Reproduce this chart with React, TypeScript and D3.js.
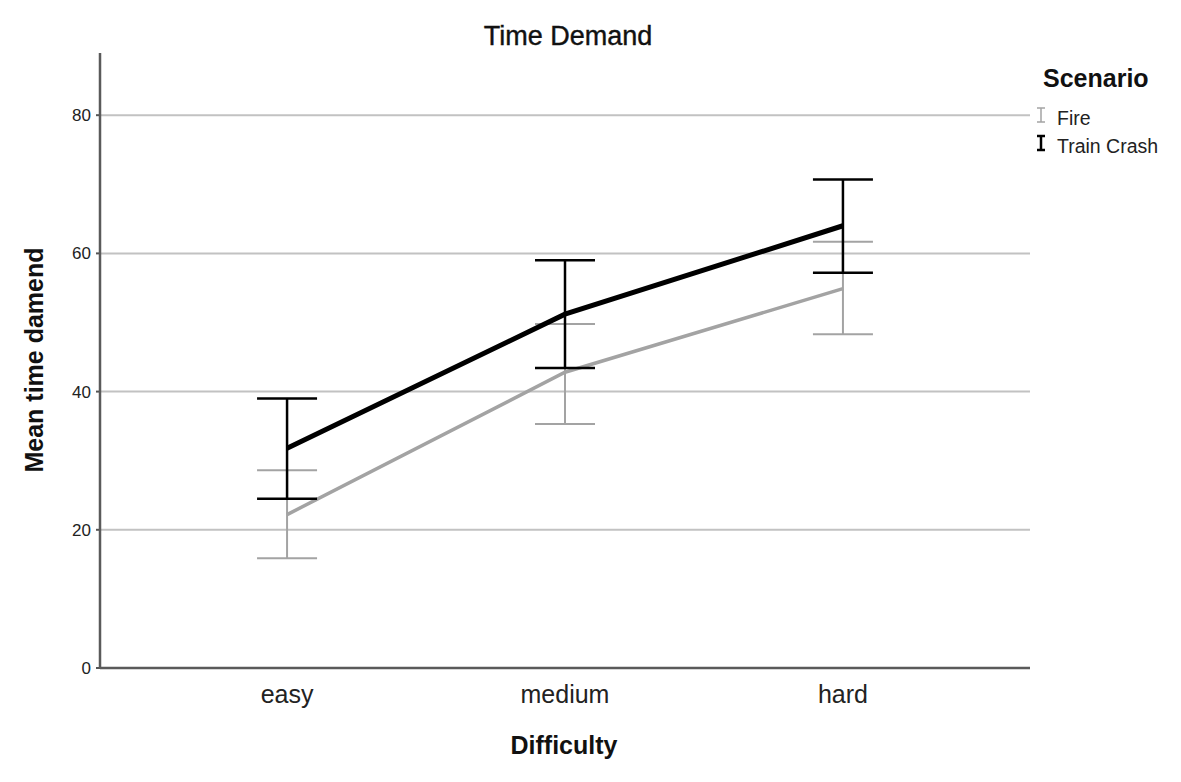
import * as d3 from 'd3'

const difficulty = ['easy', 'medium', 'hard']
const yTicks = [0, 20, 40, 60, 80]

// means and 95% CI bounds
const fireMean = [22.2, 42.8, 54.9]
const fireLow = [15.9, 35.3, 48.3]
const fireHigh = [28.6, 49.8, 61.7]

const trainMean = [31.8, 51.2, 64.0]
const trainLow = [24.5, 43.4, 57.2]
const trainHigh = [39.0, 59.0, 70.7]

interface Series {
  name: string
  mean: number[]
  low: number[]
  high: number[]
  color: string
  lineWidth: number
  barWidth: number
}

const series: Series[] = [
  { name: 'Fire', mean: fireMean, low: fireLow, high: fireHigh, color: '#a3a3a3', lineWidth: 3.5, barWidth: 2 },
  { name: 'Train Crash', mean: trainMean, low: trainLow, high: trainHigh, color: '#000000', lineWidth: 5, barWidth: 2.5 },
]

const W = 1181
const H = 782
const left = 100
const right = 1030
const top = 53
const bottom = 668
const font = '"Liberation Sans", Arial, sans-serif'

export default function App() {
  const x = d3.scalePoint<string>().domain(difficulty).range([left, right]).padding(0.673)
  const y = d3.scaleLinear().domain([0, 89]).range([bottom, top])
  const line = d3.line<number>().x((_, i) => x(difficulty[i])!).y(d => y(d))
  const cap = 30

  return (
    <svg width={W} height={H} style={{ position: 'absolute', left: 0, top: 0, background: '#fff' }} fontFamily={font}>
      <text x={568} y={45} textAnchor="middle" fontSize={27} fill="#111" stroke="#111" strokeWidth={0.4}>Time Demand</text>

      {yTicks.filter(t => t > 0).map(t => (
        <line key={t} x1={left} x2={right} y1={y(t)} y2={y(t)} stroke="#c2c2c2" strokeWidth={2} />
      ))}
      {yTicks.map(t => (
        <g key={'t' + t}>
          <line x1={left - 4} x2={left} y1={y(t)} y2={y(t)} stroke="#555" strokeWidth={2} />
          <text x={left - 9} y={y(t)} dy="0.35em" textAnchor="end" fontSize={17} fill="#222">{t}</text>
        </g>
      ))}

      <line x1={left} x2={left} y1={top} y2={bottom} stroke="#5a5a5a" strokeWidth={2.5} />
      <line x1={left} x2={right} y1={bottom} y2={bottom} stroke="#5a5a5a" strokeWidth={2.5} />

      {difficulty.map(d => (
        <text key={d} x={x(d)} y={703} textAnchor="middle" fontSize={25} fill="#222">{d}</text>
      ))}

      {series.map(s => (
        <g key={s.name}>
          {difficulty.map((d, i) => {
            const cx = x(d)!
            return (
              <g key={d} stroke={s.color} strokeWidth={s.barWidth}>
                <line x1={cx} x2={cx} y1={y(s.low[i])} y2={y(s.high[i])} />
                <line x1={cx - cap} x2={cx + cap} y1={y(s.low[i])} y2={y(s.low[i])} />
                <line x1={cx - cap} x2={cx + cap} y1={y(s.high[i])} y2={y(s.high[i])} />
              </g>
            )
          })}
          <path d={line(s.mean) ?? ''} fill="none" stroke={s.color} strokeWidth={s.lineWidth} />
        </g>
      ))}

      <text x={564} y={754} textAnchor="middle" fontSize={25} fontWeight={600} fill="#111">Difficulty</text>
      <text transform={`translate(43,${360}) rotate(-90)`} textAnchor="middle" fontSize={25} fontWeight={600} fill="#111">Mean time damend</text>

      <text x={1043} y={87} fontSize={25} fontWeight={600} fill="#111">Scenario</text>
      {series.map((s, i) => {
        const cy = 115 + i * 28
        return (
          <g key={s.name}>
            <g stroke={s.color} strokeWidth={i === 0 ? 1.5 : 2.5}>
              <line x1={1041} x2={1041} y1={cy - 7} y2={cy + 7} />
              <line x1={1037} x2={1045} y1={cy - 7} y2={cy - 7} />
              <line x1={1037} x2={1045} y1={cy + 7} y2={cy + 7} />
            </g>
            <text x={1057} y={cy + 3} dy="0.35em" fontSize={19.5} fill="#222">{s.name}</text>
          </g>
        )
      })}
    </svg>
  )
}
